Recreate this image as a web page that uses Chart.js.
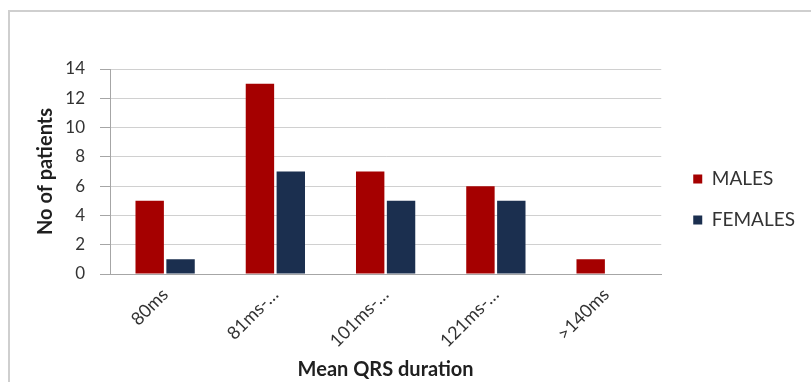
<!DOCTYPE html>
<html>
<head>
<meta charset="utf-8">
<script src="https://cdn.jsdelivr.net/npm/chart.js@4/dist/chart.umd.min.js"></script>
<style>
  html, body { margin: 0; padding: 0; background: #fff; }
  #wrap { position: relative; width: 811px; height: 382px; overflow: hidden; background: #fff; }
  #frame { position: absolute; left: 8px; top: 10px; width: 820px; height: 400px;
           border: 2px solid #cfcfcf; box-sizing: border-box; }
  #c { position: absolute; left: 0; top: 0; }
</style>
</head>
<body>
<div id="wrap">
  <div id="frame"></div>
  <canvas id="c" width="811" height="382"></canvas>
</div>
<script>
// QRS duration groups and patient counts by sex
const categories = ['80ms', '81ms-\u2026', '101ms-\u2026', '121ms-\u2026', '>140ms'];
const males = [5, 13, 7, 6, 1];
const females = [1, 7, 5, 5, 0];
const yTicks = [0, 2, 4, 6, 8, 10, 12, 14];

const FONT = "Lato, 'Open Sans', 'DejaVu Sans', sans-serif";

// Nudges the right-hand legend block into place beside the plot
const legendOffset = {
  id: 'legendOffset',
  afterLayout(chart) {
    const lg = chart.legend;
    if (!lg) return;
    lg.left += 10; lg.right += 10;
    lg.top -= 26; lg.bottom -= 26;
    lg.adjustHitBoxes();
  }
};

new Chart(document.getElementById('c'), {
  type: 'bar',
  data: {
    labels: categories,
    datasets: [
      { label: 'MALES', data: males, backgroundColor: '#a50000' },
      { label: 'FEMALES', data: females, backgroundColor: '#1b2f4f' }
    ]
  },
  options: {
    responsive: false,
    animation: false,
    layout: { padding: { left: 30, top: 69, right: 16, bottom: 0 } },
    datasets: { bar: { categoryPercentage: 0.56, barPercentage: 0.92 } },
    plugins: {
      tooltip: { enabled: false },
      legend: {
        position: 'right',
        labels: {
          boxWidth: 9, boxHeight: 9, padding: 22,
          color: '#333333',
          font: { family: FONT, size: 19 }
        }
      }
    },
    scales: {
      x: {
        grid: { display: false },
        border: { display: true, color: '#a6a6a6', width: 1 },
        ticks: {
          color: '#333333', font: { family: FONT, size: 18 },
          minRotation: 45, maxRotation: 45, padding: 2, autoSkip: false
        },
        title: {
          display: true, text: 'Mean QRS duration', color: '#1f1f1f',
          font: { family: FONT, size: 20, weight: 'bold' },
          padding: { top: 0, bottom: 0 }
        },
        afterFit(scale) { scale.height = 108; }
      },
      y: {
        min: 0, max: 14,
        afterBuildTicks(scale) { scale.ticks = yTicks.map(v => ({ value: v })); },
        grid: { color: '#d0d0d0', lineWidth: 1, tickColor: '#a6a6a6', tickLength: 10 },
        border: { display: true, color: '#a6a6a6', width: 1 },
        ticks: { color: '#333333', font: { family: FONT, size: 17 }, padding: 15 },
        title: {
          display: true, text: 'No of patients', color: '#1f1f1f',
          font: { family: FONT, size: 20, weight: 'bold' },
          padding: { top: 4, bottom: 0 }
        },
        afterFit(scale) { scale.width = 80; }
      }
    }
  },
  plugins: [legendOffset]
});
</script>
</body>
</html>
